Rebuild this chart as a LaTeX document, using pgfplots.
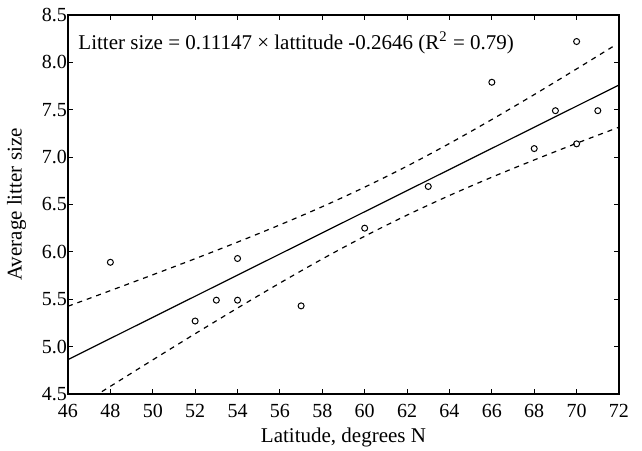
\documentclass[border=0pt]{standalone}
\usepackage{fontspec}
\setmainfont{Liberation Serif}
\usepackage{pgfplots}
\pgfplotsset{compat=1.18}
\begin{document}
\begin{tikzpicture}
\begin{axis}[
  scale only axis,
  width=275.5pt, height=189.5pt,
  xmin=46, xmax=72, ymin=4.5, ymax=8.5,
  xtick={46,48,...,72},
  ytick={4.5,5.0,...,8.5},
  yticklabel style={/pgf/number format/fixed, /pgf/number format/fixed zerofill, /pgf/number format/precision=1},
  /pgf/number format/assume math mode=true,
  tick align=inside,
  major tick length=2.5pt,
  tick style={black, line width=0.5pt},
  axis line style={line width=0.6pt},
  xticklabel style={yshift=-1.5pt},
  yticklabel style={xshift=3pt},
  xlabel={Latitude, degrees N},
  ylabel={Average litter size},
  every axis x label/.style={at={(ticklabel cs:0.5)}, anchor=north, yshift=1.5pt, font=\fontsize{10.5}{12}\selectfont},
  every axis y label/.style={at={(ticklabel cs:0.5)}, anchor=south, rotate=90, yshift=1pt, font=\fontsize{10.5}{12}\selectfont},
  clip=true,
]
% fitted line
\addplot[black, line width=0.6pt] coordinates {(46,4.8630) (72,7.7611)};
% upper confidence band
\addplot[black, line width=0.6pt, dash pattern=on 2.5pt off 2.5pt, smooth] coordinates {
(46,5.426) (47,5.508) (48,5.591) (50,5.758) (52,5.928) (54,6.103) (56,6.285) (58,6.477)
(60,6.683) (62,6.905) (64,7.144) (66,7.397) (68,7.660) (70,7.931) (71.7,8.165)};
% lower confidence band
\addplot[black, line width=0.6pt, dash pattern=on 2.5pt off 2.5pt, smooth] coordinates {
(46,4.300) (47,4.441) (48,4.581) (50,4.860) (52,5.136) (54,5.407) (56,5.671) (58,5.925)
(60,6.165) (62,6.388) (64,6.595) (66,6.788) (68,6.970) (70,7.146) (72,7.316)};
% data
\addplot[only marks, mark=o, mark size=1.5pt, mark options={line width=0.5pt, black}] coordinates {
(48,5.89) (52,5.27) (53,5.49) (54,5.93) (54,5.49) (57,5.43) (60,6.25) (63,6.69)
(66,7.79) (68,7.09) (69,7.49) (70,8.22) (70,7.14) (71,7.49)};
\node[anchor=west, xshift=1.7pt, yshift=-14pt, font=\fontsize{10.5}{12}\selectfont] at (rel axis cs:0,1)
  {Litter size = 0.11147 × lattitude -0.2646 (R\textsuperscript{2} = 0.79)};
\end{axis}
\pgfresetboundingbox
\path[use as bounding box] ([shift={(-34pt,-28.5pt)}]current axis.south west) rectangle ([shift={(11.5pt,7.5pt)}]current axis.north east);
\end{tikzpicture}
\end{document}
